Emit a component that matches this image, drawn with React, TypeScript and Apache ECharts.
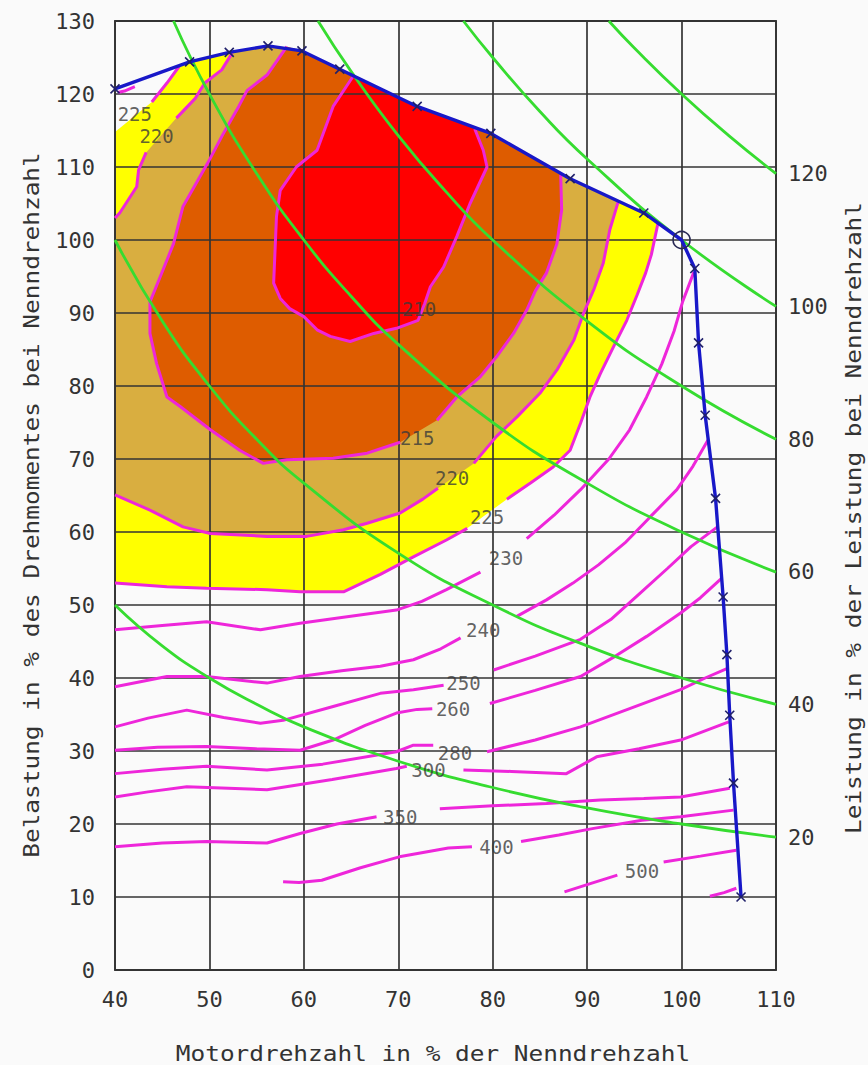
import React, { useEffect, useRef } from "react";
import * as echarts from "echarts";

// Full-load torque curve: [engine speed %, load %]
const fullLoad: number[][] = [
  [40, 120.7], [47.9, 124.4], [52.1, 125.7], [56.2, 126.6], [59.8, 125.9],
  [63.8, 123.4], [72, 118.3], [79.8, 114.6], [88.2, 108.4], [96, 103.7],
  [100, 100], [101.4, 96.1], [101.8, 85.9], [102.5, 76], [103.6, 64.6],
  [104.4, 51.1], [104.8, 43.2], [105.1, 34.9], [105.5, 25.6], [106.3, 10],
];
const ratedPoint = [100, 100];

// Constant power lines (power in % of rated power)
const power20: number[][] = [[40, 50], [45, 44.4], [50, 40], [55, 36.4], [60, 33.3], [70, 28.6], [80, 25], [90, 22.2], [100, 20], [110, 18.2]];
const power40: number[][] = [[40, 100], [45, 88.9], [50, 80], [55, 72.7], [60, 66.7], [70, 57.1], [80, 50], [90, 44.4], [100, 40], [110, 36.4]];
const power60: number[][] = [[46.2, 130], [50, 120], [55, 109.1], [60, 100], [65, 92.3], [70, 85.7], [80, 75], [90, 66.7], [100, 60], [110, 54.5]];
const power80: number[][] = [[61.5, 130], [65, 123.1], [70, 114.3], [75, 106.7], [80, 100], [90, 88.9], [100, 80], [110, 72.7]];
const power100: number[][] = [[76.9, 130], [80, 125], [85, 117.6], [90, 111.1], [100, 100], [110, 90.9]];
const power120: number[][] = [[92.3, 130], [95, 126.3], [100, 120], [105, 114.3], [110, 109.1]];

// Specific fuel consumption contours (g/kWh), split where a label sits
const c210: number[][] = [
  [65.2, 122.4], [63.1, 118.3], [61.4, 112.3], [59.2, 110], [57.5, 106.8], [57.1, 103.2],
  [56.8, 94.1], [57.5, 92], [58.5, 90.6], [60, 89.5], [61.4, 87.7], [62.8, 86.8],
  [64.9, 86.1], [67.4, 87.2], [69.8, 87.9], [72.1, 89], [72.8, 91.3], [73.4, 93.6],
  [74.8, 96.3], [76.2, 100.5], [77.6, 105], [79.4, 110], [79, 112.3], [78.1, 115.2],
];
const c215a: number[][] = [
  [58.2, 126.5], [56.1, 122.6], [54, 120.5], [53.1, 118.3], [51.4, 114.4], [49.8, 110.5],
  [47.2, 104.6], [46.2, 99.5], [44.8, 95], [43.7, 91.5], [43.7, 87.2], [44.4, 83.1],
  [45.5, 78.5], [46.9, 77.2], [50.1, 74], [53.2, 71.2], [55.7, 69.4], [58.2, 69.9],
  [63.1, 70.1], [66.7, 70.8], [70.2, 72.3],
];
const c215b: number[][] = [
  [74.1, 75.3], [76.2, 78.5], [78.7, 81.3], [80.4, 84], [82.2, 87.2], [83.6, 90.4],
  [84.5, 93], [85.7, 95.5], [86.8, 99.5], [87.3, 104.1], [87.2, 108.9],
];
const c220a: number[][] = [[52.4, 125.6], [51.3, 123.3], [49.5, 121.5], [48.5, 119.4], [46.5, 116.7]];
const c220b: number[][] = [[43.3, 112], [42.5, 109.6], [42.3, 107.3], [40.5, 103.7], [40, 103]];
const c220c: number[][] = [
  [40, 65.1], [43.7, 63], [47.2, 60.7], [50.1, 59.8], [56.1, 59.4], [60.3, 59.4],
  [64.2, 60.3], [66.7, 61.2], [70.2, 62.6], [72.6, 64.5], [74.2, 66],
];
const c220d: number[][] = [
  [78, 69.4], [80.4, 73.1], [82.6, 75.8], [85, 79], [86.8, 82.2], [88.6, 86.3],
  [89.6, 89.9], [90.7, 93.2], [91.7, 96.8], [92.4, 101.4], [93.3, 105.3],
];
const c225a: number[][] = [[46.8, 123.8], [45.5, 121.5], [43.9, 118.9]];
const c225c: number[][] = [
  [40, 53], [45.5, 52.5], [49.7, 52.3], [56.1, 52.1], [59.6, 51.8], [64.2, 51.8],
  [68.1, 54.2], [71.6, 56.6], [75.1, 58.9], [77.3, 60.5],
];
const c225d: number[][] = [
  [81.5, 64.5], [84, 66.7], [86.4, 68.9], [88.2, 71.2], [89.3, 74.9], [90.3, 78.5],
  [91.4, 81.7], [92.8, 85.4], [94.2, 89], [95.3, 92.5], [96.2, 95.5], [96.8, 98], [97.5, 102.3],
];
const c230corner: number[][] = [[40.3, 120.2], [41, 120.4], [42.1, 121]];
const c230a: number[][] = [
  [40, 46.6], [45, 47.2], [49.7, 47.7], [55.4, 46.6], [59.6, 47.5], [64, 48.3],
  [69.8, 49.3], [72.5, 50.5], [75.1, 52.1], [78.7, 54.5],
];
const c230b: number[][] = [
  [83.6, 59.1], [86.5, 62.3], [89.3, 65.8], [92.3, 70], [94.5, 74], [96.3, 78.5],
  [97.9, 83], [99.2, 87.5], [100.1, 91.5], [101.3, 95.6],
];
const c240a: number[][] = [
  [40, 38.8], [45.5, 40.2], [49.7, 40.2], [56.1, 39.3], [59.6, 40.2], [64, 41],
  [68.1, 41.6], [71.6, 42.5], [74.5, 44], [76.6, 45.5],
];
const c240b: number[][] = [
  [82.5, 48.4], [85.7, 50.7], [88.5, 53], [91.2, 55.5], [94, 58.5], [96.7, 62.1],
  [99.5, 65.8], [101.2, 69], [102.8, 72.6],
];
const c250a: number[][] = [
  [40, 33.3], [43.5, 34.5], [47.6, 35.6], [51.5, 34.6], [55.4, 33.8], [57.8, 34.2],
  [63.1, 36.1], [68.1, 37.9], [71.6, 38.4], [74.8, 39],
];
const c250b: number[][] = [
  [80.1, 41.1], [84.5, 43], [89.3, 45.3], [92.5, 48], [95.5, 51.5], [98.5, 55], [101, 58], [103.8, 60.7],
];
const c260a: number[][] = [
  [40, 30.1], [44.5, 30.5], [49.7, 30.6], [55, 30.3], [59.6, 30.1], [63.1, 31.5],
  [66.5, 33.5], [69.8, 35.2], [72, 35.7], [73.6, 35.8],
];
const c260b: number[][] = [
  [79.7, 36.5], [84.5, 38.3], [89.3, 40.2], [93, 43], [96.3, 45.7], [99.9, 48.9], [102, 51], [104.2, 53.6],
];
const c280a: number[][] = [
  [40, 26.9], [45, 27.5], [49.7, 27.9], [56.1, 27.4], [62, 28.2], [69.8, 29.9], [71.6, 30.8], [73.7, 30.8],
];
const c280b: number[][] = [
  [79.4, 29.9], [84.5, 31.5], [89.3, 33.3], [94.5, 35.8], [99.9, 38.4], [102.5, 40], [104.8, 41.3],
];
const c300a: number[][] = [
  [40, 23.7], [43.5, 24.4], [47.6, 25.1], [52, 24.9], [56.1, 24.7], [63, 26.1], [69.8, 27.6], [70.9, 27.9],
];
const c300b: number[][] = [
  [76.9, 27.4], [82, 27.2], [87.8, 26.9], [91, 29.2], [95.5, 30.3], [99.9, 31.5], [105, 34],
];
const c350a: number[][] = [
  [40, 16.9], [45, 17.4], [49.7, 17.6], [56.1, 17.4], [59.6, 18.7], [63.5, 20], [67.7, 21],
];
const c350b: number[][] = [
  [74.4, 22.1], [80, 22.5], [85.7, 22.8], [91.4, 23.3], [96, 23.5], [99.9, 23.7], [105.1, 24.9],
];
const c400a: number[][] = [
  [57.8, 12.1], [59.5, 12], [61.9, 12.3], [66, 14], [70.1, 15.5], [75.3, 16.7], [77.8, 16.9],
];
const c400b: number[][] = [
  [83, 17.6], [87, 18.5], [90.7, 19.4], [95.8, 20.5], [99.9, 21], [105.5, 21.9],
];
const c500a: number[][] = [[87.6, 10.7], [90.5, 11.9], [93.2, 13]];
const c500b: number[][] = [[98.1, 14.8], [102, 15.6], [105.8, 16.4]];
const c600: number[][] = [[103, 10.1], [104.5, 10.6], [105.8, 11.2]];

const contourLabels: [number, number, string][] = [
  [42.1, 117.2, "225"], [44.4, 114.2, "220"], [72.2, 90.5, "210"], [72.0, 72.9, "215"],
  [75.7, 67.4, "220"], [79.4, 62.1, "225"], [81.4, 56.5, "230"], [79.0, 46.6, "240"],
  [76.9, 39.3, "250"], [75.8, 35.8, "260"], [76.0, 29.7, "280"], [73.2, 27.4, "300"],
  [70.2, 21.0, "350"], [80.4, 16.9, "400"], [95.8, 13.5, "500"],
];

const MAGENTA = "#ee26da";
const GREEN = "#36dc30";
const BLUE = "#1818c8";
const GRID = "#333333";
const TEXT = "#333333";
const MONO = '"DejaVu Sans Mono", monospace';

// Upper part of the full-load curve between two speeds, walking back towards lower speed
const upperFullLoad = (from: number, to: number) =>
  fullLoad.filter((p) => p[1] >= 100 && p[0] > from && p[0] < to).reverse();

const last = (a: number[][]) => a[a.length - 1];

const yellowArea = [...c225a, [40, 114.8], ...c225c, ...c225d, ...upperFullLoad(c225a[0][0], last(c225d)[0])];
const tanArea = [...c220a, ...c220b, ...c220c, ...c220d, ...upperFullLoad(c220a[0][0], last(c220d)[0])];
const orangeArea = [...c215a, ...c215b, ...upperFullLoad(c215a[0][0], last(c215b)[0])];
const redArea = [...c210, ...upperFullLoad(c210[0][0], last(c210)[0])];

const areaSeries = (pts: number[][], color: string) => ({
  type: "custom",
  xAxisIndex: 0,
  yAxisIndex: 0,
  data: pts,
  encode: { x: 0, y: 1 },
  z: 1,
  silent: true,
  renderItem: (params: any, api: any) => {
    if (params.dataIndex !== 0) return null;
    const points = pts.map((p) => api.coord(p));
    return { type: "polygon", shape: { points }, style: { fill: color } };
  },
});

const lineSeries = (pts: number[][], color: string, width: number, z: number, smooth = false) => ({
  type: "line",
  xAxisIndex: 0,
  yAxisIndex: 0,
  data: pts,
  symbol: "none",
  smooth,
  lineStyle: { color, width },
  z,
  silent: true,
});

const contourSegments = [
  c210, c215a, c215b, c220a, c220b, c220c, c220d, c225a, c225c, c225d, c230corner,
  c230a, c230b, c240a, c240b, c250a, c250b, c260a, c260b, c280a, c280b,
  c300a, c300b, c350a, c350b, c400a, c400b, c500a, c500b, c600,
];
const powerLines = [power20, power40, power60, power80, power100, power120];

export default function App() {
  const ref = useRef<HTMLDivElement>(null);

  useEffect(() => {
    if (!ref.current) return;
    const chart = echarts.init(ref.current, undefined, { renderer: "svg" });
    const axisLabel = { fontFamily: MONO, fontSize: 22, color: TEXT };
    const titleStyle = (text: string) => ({
      text,
      font: `22px ${MONO}`,
      fill: TEXT,
      align: "center",
      verticalAlign: "middle",
      textAlign: "center",
      textVerticalAlign: "middle",
    });

    chart.setOption({
      animation: false,
      backgroundColor: "#fafafa",
      grid: { left: 115, top: 21, width: 661, height: 949 },
      xAxis: [
        {
          type: "value", min: 40, max: 110, interval: 10, z: 3,
          axisLine: { show: true, onZero: false, lineStyle: { color: GRID, width: 1.8 } },
          axisTick: { show: false },
          axisLabel: { ...axisLabel, margin: 18 },
          splitLine: { show: true, lineStyle: { color: GRID, width: 1.7 } },
        },
        {
          type: "value", position: "top", min: 40, max: 110, interval: 10, z: 3,
          axisLine: { show: true, onZero: false, lineStyle: { color: GRID, width: 1.8 } },
          axisTick: { show: false }, axisLabel: { show: false }, splitLine: { show: false },
        },
      ],
      yAxis: [
        {
          type: "value", min: 0, max: 130, interval: 10, z: 3,
          axisLine: { show: true, onZero: false, lineStyle: { color: GRID, width: 1.8 } },
          axisTick: { show: false },
          axisLabel: { ...axisLabel, margin: 20 },
          splitLine: { show: true, lineStyle: { color: GRID, width: 1.7 } },
        },
        {
          // power scale at the right edge: load % x 110/100
          type: "value", position: "right", min: 0, max: 143, interval: 20, z: 3,
          axisLine: { show: true, onZero: false, lineStyle: { color: GRID, width: 1.8 } },
          axisTick: { show: false },
          axisLabel: {
            ...axisLabel, margin: 12,
            formatter: (v: number) => (v >= 20 && v <= 120 ? String(v) : ""),
          },
          splitLine: { show: false },
        },
      ],
      graphic: [
        { type: "text", x: 433, y: 1053, scaleX: 1.11, style: titleStyle("Motordrehzahl in % der Nenndrehzahl") },
        { type: "text", x: 31, y: 505, rotation: Math.PI / 2, scaleX: 1.11, style: titleStyle("Belastung in % des Drehmomentes bei Nenndrehzahl") },
        { type: "text", x: 853, y: 518, rotation: Math.PI / 2, scaleX: 1.11, style: titleStyle("Leistung in % der Leistung bei Nenndrehzahl") },
      ],
      series: [
        areaSeries(yellowArea, "#ffff00"),
        areaSeries(tanArea, "#d9ae40"),
        areaSeries(orangeArea, "#de5c00"),
        areaSeries(redArea, "#ff0000"),
        ...contourSegments.map((s) => lineSeries(s, MAGENTA, 3, 5)),
        ...powerLines.map((s) => lineSeries(s, GREEN, 2.8, 6, true)),
        {
          type: "line",
          data: fullLoad.map((p) =>
            p[0] === ratedPoint[0] && p[1] === ratedPoint[1]
              ? { value: p, symbol: "circle", symbolSize: 17, itemStyle: { color: "transparent", borderColor: "#2a2a55", borderWidth: 1.6 } }
              : p
          ),
          symbol: "path://M0,0L10,10M10,0L0,10",
          symbolSize: 9,
          showSymbol: true,
          itemStyle: { color: "transparent", borderColor: "#20206a", borderWidth: 1.6 },
          lineStyle: { color: BLUE, width: 3.4 },
          z: 8,
          silent: true,
        },
        {
          type: "scatter",
          data: contourLabels.map(([x, y, t]) => ({ value: [x, y], name: t })),
          symbolSize: 1,
          itemStyle: { color: "transparent" },
          label: {
            show: true, position: "inside", formatter: (p: any) => p.name,
            fontFamily: MONO, fontSize: 19, color: "#3a3a3a",
          },
          z: 10,
          silent: true,
        },
      ],
    });
    return () => chart.dispose();
  }, []);

  return <div ref={ref} style={{ position: "fixed", left: 0, top: 0, width: 868, height: 1065 }} />;
}
